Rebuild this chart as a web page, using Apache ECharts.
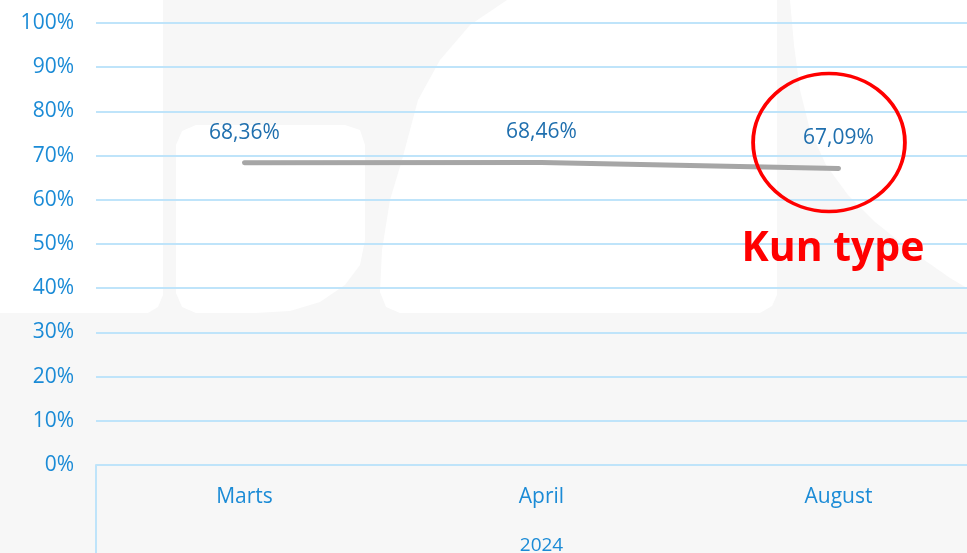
<!DOCTYPE html>
<html lang="da">
<head>
    <meta charset="UTF-8">
    <title>Kun type</title>
    <style>
        html, body { margin: 0; padding: 0; background: #f7f7f7; }
    </style>
</head>
<body>
<div id="main" style="width: 967px;height:553px;"></div>
<script src="https://cdn.jsdelivr.net/npm/echarts@6/dist/echarts.min.js"></script>
<script>
    // data
    var months = ['Marts', 'April', 'August'];
    var years = ['2024'];
    var shares = [68.36, 68.46, 67.09];
    var yTicks = [0, 10, 20, 30, 40, 50, 60, 70, 80, 90, 100];

    var axisBlue = '#1b8bd6';
    var labelBlue = '#1f6fae';
    var gridBlue = '#bfe4fa';
    var font = '"Open Sans", "Noto Sans", sans-serif';

    function pct(v) {
        return v.toFixed(2).replace('.', ',') + '%';
    }

    var myChart = echarts.init(document.getElementById('main'));

    var option = {
        backgroundColor: '#f7f7f7',
        animation: false,
        // faint logo shapes behind the plot
        graphic: [
            {
                type: 'polygon', z: -10, silent: true,
                shape: {points: [[0, 0], [163, 0], [163, 295], [158, 307], [148, 313], [0, 313]]},
                style: {fill: '#ffffff'}
            },
            {
                type: 'polygon', z: -10, silent: true,
                shape: {points: [[196, 125], [345, 125], [360, 130], [365, 145], [365, 240], [360, 265],
                    [345, 285], [320, 302], [290, 311], [255, 313], [196, 313], [182, 307], [176, 293],
                    [176, 145], [182, 131]]},
                style: {fill: '#ffffff'}
            },
            {
                type: 'polygon', z: -10, silent: true,
                shape: {points: [[507, 0], [777, 0], [777, 295], [772, 306], [760, 313], [400, 313],
                    [386, 307], [380, 292], [382, 250], [390, 200], [402, 160], [418, 100], [440, 60],
                    [470, 25]]},
                style: {fill: '#ffffff'}
            },
            {
                type: 'polygon', z: -10, silent: true,
                shape: {points: [[790, 0], [967, 0], [967, 288], [950, 278], [910, 250], [875, 222],
                    [848, 195], [826, 165], [810, 130], [800, 90], [794, 45]]},
                style: {fill: '#ffffff'}
            },
            // annotation
            {
                type: 'circle', z: 100, silent: true,
                x: 829, y: 142.5, scaleX: 1.1, scaleY: 1,
                shape: {cx: 0, cy: 0, r: 69},
                style: {fill: 'none', stroke: '#ff0000', lineWidth: 3.5}
            },
            {
                type: 'text', z: 100, silent: true,
                x: 833, y: 249,
                style: {
                    text: 'Kun type',
                    fill: '#ff0000',
                    font: 'bold 41px "Open Sans", sans-serif',
                    align: 'center',
                    verticalAlign: 'middle'
                }
            }
        ],
        grid: {
            left: 96,
            top: 23,
            width: 891,
            height: 442,
            outerBoundsMode: 'none'
        },
        xAxis: [
            {
                type: 'category',
                data: months,
                boundaryGap: true,
                axisLine: {lineStyle: {color: gridBlue, width: 2}},
                axisTick: {show: false},
                axisLabel: {
                    color: axisBlue,
                    fontFamily: font,
                    fontSize: 21,
                    margin: 22
                }
            },
            {
                type: 'category',
                data: years,
                position: 'bottom',
                boundaryGap: true,
                axisLine: {show: false},
                axisTick: {
                    show: true,
                    length: 90,
                    lineStyle: {color: gridBlue, width: 2}
                },
                axisLabel: {
                    color: axisBlue,
                    fontFamily: font,
                    fontSize: 19,
                    margin: 71
                }
            }
        ],
        yAxis: {
            type: 'value',
            min: yTicks[0],
            max: yTicks[yTicks.length - 1],
            interval: 10,
            axisLine: {show: false},
            axisTick: {show: false},
            splitLine: {lineStyle: {color: gridBlue, width: 2}},
            axisLabel: {
                color: axisBlue,
                fontFamily: font,
                fontSize: 21,
                margin: 22,
                formatter: function (v) { return v + '%'; }
            }
        },
        series: [
            {
                name: 'Andel',
                type: 'line',
                xAxisIndex: 0,
                data: shares,
                showSymbol: true,
                symbol: 'circle',
                symbolSize: 1,
                itemStyle: {color: '#a6a6a6'},
                lineStyle: {color: '#a6a6a6', width: 5, cap: 'round', join: 'round'},
                label: {
                    show: true,
                    position: 'top',
                    distance: 19,
                    color: labelBlue,
                    fontFamily: font,
                    fontSize: 21,
                    formatter: function (p) { return pct(p.value); }
                }
            }
        ]
    };
    myChart.setOption(option);
</script>
</body>
</html>
